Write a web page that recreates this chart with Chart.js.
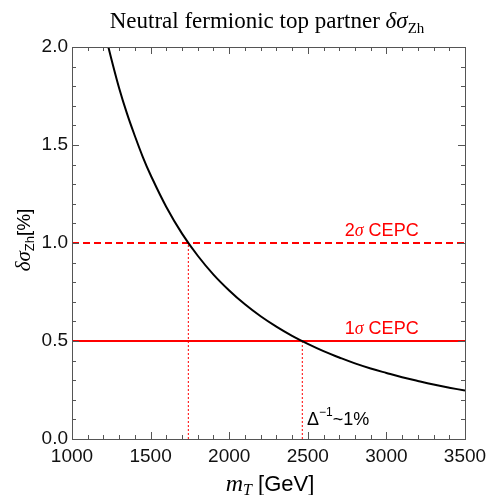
<!DOCTYPE html>
<html>
<head>
<meta charset="UTF-8">
<title>Neutral fermionic top partner</title>
<script src="https://cdn.jsdelivr.net/npm/chart.js@4.4.1/dist/chart.umd.min.js"></script>
<style>
  html, body { margin: 0; padding: 0; background: #fff; }
  #wrap { width: 487px; height: 495px; }
</style>
</head>
<body>
<div id="wrap"><canvas id="c" width="487" height="495"></canvas></div>
<script>
// 曲線 (讀圖估計)
const massGeV = [1225, 1250, 1300, 1350, 1400, 1450, 1500, 1600, 1700, 1800, 1900, 2000, 2100, 2200, 2300, 2400, 2500, 2600, 2700, 2800, 2900, 3000, 3100, 3200, 3300, 3400, 3500];
const deltaSigma = [2.02, 1.94, 1.79, 1.66, 1.546, 1.44, 1.347, 1.184, 1.048, 0.935, 0.839, 0.758, 0.687, 0.626, 0.573, 0.526, 0.485, 0.448, 0.416, 0.386, 0.360, 0.337, 0.315, 0.296, 0.278, 0.262, 0.247];
// CEPC 水平線
const cepc2sigma = 1.0;
const cepc1sigma = 0.5;
// 交點
const cross2sigma = 1740;
const cross1sigma = 2465;
// 軸
const xMin = 1000, xMax = 3500, xStep = 500, xMinorStep = 100;
const yMin = 0, yMax = 2.0, yStep = 0.5, yMinorStep = 0.1;

const sans = "'Liberation Sans', Arial, sans-serif";
const serif = "'Liberation Serif', 'Times New Roman', serif";

// 文字片段繪製
function drawRuns(ctx, runs, x, y, align) {
  let total = 0;
  runs.forEach(r => { ctx.font = r.font; total += ctx.measureText(r.t).width; });
  let cx = align === 'center' ? x - total / 2 : x;
  runs.forEach(r => {
    ctx.font = r.font;
    ctx.fillStyle = r.color || '#000';
    ctx.fillText(r.t, cx, y + (r.dy || 0));
    cx += ctx.measureText(r.t).width;
  });
}

const framePlugin = {
  id: 'frame',
  afterDraw(chart) {
    const { ctx, chartArea: a, scales } = chart;
    const xs = scales.x, ys = scales.y;
    ctx.save();
    ctx.textBaseline = 'alphabetic';
    // 外框
    ctx.strokeStyle = '#555';
    ctx.lineWidth = 1;
    ctx.strokeRect(Math.round(a.left) + 0.5, Math.round(a.top) + 0.5, Math.round(a.right - a.left), Math.round(a.bottom - a.top));
    // 刻度 (向內)
    ctx.beginPath();
    for (let i = 0; i <= Math.round((xMax - xMin) / xMinorStep); i++) {
      const v = xMin + i * xMinorStep;
      const px = Math.round(xs.getPixelForValue(v)) + 0.5;
      const len = (i % 5 === 0) ? 7 : 4;
      ctx.moveTo(px, a.bottom); ctx.lineTo(px, a.bottom - len);
      ctx.moveTo(px, a.top); ctx.lineTo(px, a.top + len);
    }
    for (let i = 0; i <= Math.round((yMax - yMin) / yMinorStep); i++) {
      const v = yMin + i * yMinorStep;
      const py = Math.round(ys.getPixelForValue(v)) + 0.5;
      const len = (i % 5 === 0) ? 7 : 4;
      ctx.moveTo(a.left, py); ctx.lineTo(a.left + len, py);
      ctx.moveTo(a.right, py); ctx.lineTo(a.right - len, py);
    }
    ctx.stroke();

    // 標題
    drawRuns(ctx, [
      { t: 'Neutral fermionic top partner ', font: `23px ${serif}` },
      { t: 'δσ', font: `italic 23px ${serif}` },
      { t: 'Zh', font: `15px ${serif}`, dy: 5 }
    ], 267, 28, 'center');

    // x 軸標題
    drawRuns(ctx, [
      { t: 'm', font: `italic 24px ${serif}` },
      { t: 'T', font: `italic 16px ${serif}`, dy: 4 },
      { t: ' [GeV]', font: `22px ${sans}` }
    ], 270, 491, 'center');

    // y 軸標題
    ctx.save();
    ctx.translate(30, 240);
    ctx.rotate(-Math.PI / 2);
    drawRuns(ctx, [
      { t: 'δσ', font: `italic 21px ${serif}` },
      { t: 'Zh', font: `13px ${sans}`, dy: 4 },
      { t: '[%]', font: `19px ${sans}` }
    ], 0, 0, 'center');
    ctx.restore();

    // 註記
    const red = '#ff0000';
    const lx = xs.getPixelForValue(2970);
    drawRuns(ctx, [
      { t: '2', font: `18px ${sans}`, color: red },
      { t: 'σ', font: `italic 18px ${serif}`, color: red },
      { t: ' CEPC', font: `18px ${sans}`, color: red }
    ], lx, ys.getPixelForValue(cepc2sigma) - 7, 'center');
    drawRuns(ctx, [
      { t: '1', font: `18px ${sans}`, color: red },
      { t: 'σ', font: `italic 18px ${serif}`, color: red },
      { t: ' CEPC', font: `18px ${sans}`, color: red }
    ], lx, ys.getPixelForValue(cepc1sigma) - 7, 'center');
    drawRuns(ctx, [
      { t: 'Δ', font: `18px ${sans}` },
      { t: '−1', font: `12px ${sans}`, dy: -9 },
      { t: '~1%', font: `18px ${sans}` }
    ], xs.getPixelForValue(2495), ys.getPixelForValue(0.07), 'left');
    ctx.restore();
  }
};

new Chart(document.getElementById('c').getContext('2d'), {
  type: 'scatter',
  data: {
    datasets: [
      { label: 'curve', data: massGeV.map((m, i) => ({ x: m, y: deltaSigma[i] })), showLine: true,
        borderColor: '#000', borderWidth: 2, pointRadius: 0, tension: 0.4 },
      { label: '2sigma', data: [{ x: xMin, y: cepc2sigma }, { x: xMax, y: cepc2sigma }], showLine: true,
        borderColor: '#ff0000', borderWidth: 2, borderDash: [7, 4], pointRadius: 0 },
      { label: '1sigma', data: [{ x: xMin, y: cepc1sigma }, { x: xMax, y: cepc1sigma }], showLine: true,
        borderColor: '#ff0000', borderWidth: 2, pointRadius: 0 },
      { label: 'v2', data: [{ x: cross2sigma, y: yMin }, { x: cross2sigma, y: cepc2sigma }], showLine: true,
        borderColor: '#ff0000', borderWidth: 1, borderDash: [2, 2], pointRadius: 0 },
      { label: 'v1', data: [{ x: cross1sigma, y: yMin }, { x: cross1sigma, y: cepc1sigma }], showLine: true,
        borderColor: '#ff0000', borderWidth: 1, borderDash: [2, 2], pointRadius: 0 }
    ]
  },
  options: {
    responsive: false,
    animation: false,
    events: [],
    layout: { padding: { top: 47, right: 22, left: 0, bottom: 0 } },
    plugins: { legend: { display: false }, tooltip: { enabled: false } },
    scales: {
      x: {
        type: 'linear', min: xMin, max: xMax,
        afterFit(s) { s.height = 56; s.paddingLeft = 0; s.paddingRight = 0; },
        grid: { display: false, drawTicks: false },
        border: { display: false },
        ticks: { stepSize: xStep, padding: 6, color: '#111', font: { family: sans, size: 19 }, maxRotation: 0,
          callback: v => String(v) }
      },
      y: {
        type: 'linear', min: yMin, max: yMax,
        afterFit(s) { s.width = 72; s.paddingTop = 0; s.paddingBottom = 0; },
        grid: { display: false, drawTicks: false },
        border: { display: false },
        ticks: { stepSize: yStep, padding: 4, color: '#111', font: { family: sans, size: 19 },
          callback: v => v.toFixed(1) }
      }
    }
  },
  plugins: [framePlugin]
});
</script>
</body>
</html>
